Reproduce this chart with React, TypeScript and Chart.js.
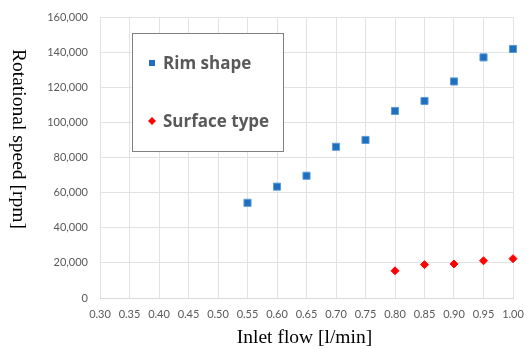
import { useEffect, useRef } from "react";
import { Chart, registerables } from "chart.js";

Chart.register(...registerables);

const rimFlow = [0.55, 0.6, 0.65, 0.7, 0.75, 0.8, 0.85, 0.9, 0.95, 1.0];
const rimSpeed = [54200, 63400, 69600, 86100, 90000, 106500, 112200, 123300, 137000, 141800];
const surfaceFlow = [0.8, 0.85, 0.9, 0.95, 1.0];
const surfaceSpeed = [15500, 19000, 19400, 21200, 22400];
const seriesLabels = ["Rim shape", "Surface type"];
const xMin = 0.3;
const xMax = 1.0;
const xStep = 0.05;
const yMin = 0;
const yMax = 160000;
const yStep = 20000;
const xTitle = "Inlet flow [l/min]";
const yTitle = "Rotational speed [rpm]";

const titlesPlugin = {
  id: "axisTitles",
  afterDraw(chart: any) {
    const ctx = chart.ctx;
    const area = chart.chartArea;
    ctx.save();
    ctx.fillStyle = "#000";
    ctx.font = "19.5px 'Liberation Serif', 'Times New Roman', serif";
    ctx.textAlign = "center";
    ctx.textBaseline = "middle";
    ctx.fillText(xTitle, (area.left + area.right) / 2 - 2, 338);
    ctx.translate(18, 139);
    ctx.rotate(Math.PI / 2);
    ctx.fillText(yTitle, 0, 0);
    ctx.restore();
  },
};

const legendPlugin = {
  id: "boxLegend",
  afterDraw(chart: any) {
    const ctx = chart.ctx;
    const x0 = 132, y0 = 33, w = 151, h = 118;
    ctx.save();
    ctx.fillStyle = "#fff";
    ctx.fillRect(x0, y0, w, h);
    ctx.strokeStyle = "#808080";
    ctx.lineWidth = 1;
    ctx.strokeRect(x0 + 0.5, y0 + 0.5, w, h);
    const rows = [63, 121];
    chart.data.datasets.forEach((ds: any, i: number) => {
      const cy = rows[i];
      const cx = 152;
      ctx.fillStyle = ds.backgroundColor;
      if (ds.pointStyle === "rect") {
        ctx.fillRect(cx - 3, cy - 3, 6, 6);
      } else {
        ctx.beginPath();
        ctx.moveTo(cx, cy - 4);
        ctx.lineTo(cx + 4, cy);
        ctx.lineTo(cx, cy + 4);
        ctx.lineTo(cx - 4, cy);
        ctx.closePath();
        ctx.fill();
      }
      ctx.fillStyle = "#595959";
      ctx.font = "bold 17px 'Open Sans', Lato, sans-serif";
      ctx.textAlign = "left";
      ctx.textBaseline = "middle";
      ctx.fillText(ds.label, 163, cy + 1);
    });
    ctx.restore();
  },
};

export default function App() {
  const ref = useRef<HTMLCanvasElement | null>(null);
  useEffect(() => {
    document.body.style.margin = "0";
    if (!ref.current) return;
    const chart = new Chart(ref.current, {
      type: "scatter",
      data: {
        datasets: [
          {
            label: seriesLabels[0],
            data: rimFlow.map((x, i) => ({ x, y: rimSpeed[i] })),
            backgroundColor: "#1F6FC0",
            borderColor: "#5B9BD5",
            borderWidth: 1,
            pointStyle: "rect",
            pointRadius: 5,
            clip: false,
          },
          {
            label: seriesLabels[1],
            data: surfaceFlow.map((x, i) => ({ x, y: surfaceSpeed[i] })),
            backgroundColor: "#FF0000",
            borderColor: "#FF0000",
            borderWidth: 1,
            pointStyle: "rectRot",
            pointRadius: 4,
            clip: false,
          },
        ],
      },
      options: {
        responsive: false,
        animation: false,
        devicePixelRatio: 1,
        layout: { padding: { left: 0, top: 17, right: 14, bottom: 0 } },
        plugins: { legend: { display: false }, tooltip: { enabled: false } },
        scales: {
          x: {
            type: "linear",
            min: xMin,
            max: xMax,
            ticks: {
              stepSize: xStep,
              padding: 10,
              color: "#595959",
              font: { family: "Lato", size: 11 },
              maxRotation: 0,
              autoSkip: false,
              callback: (v: any) => Number(v).toFixed(2),
            },
            grid: { color: "#e2e2e2", drawTicks: false },
            border: { color: "#d9d9d9" },
            afterFit: (s: any) => {
              s.height = 51;
              s.paddingLeft = 0;
              s.paddingRight = 0;
            },
          },
          y: {
            type: "linear",
            min: yMin,
            max: yMax,
            ticks: {
              stepSize: yStep,
              padding: 12,
              color: "#595959",
              font: { family: "Lato", size: 11 },
              callback: (v: any) => Number(v).toLocaleString("en-US"),
            },
            grid: { color: "#e2e2e2", drawTicks: false },
            border: { display: false },
            afterFit: (s: any) => {
              s.width = 100;
              s.paddingTop = 0;
              s.paddingBottom = 0;
            },
          },
        },
      },
      plugins: [titlesPlugin, legendPlugin],
    } as any);
    return () => chart.destroy();
  }, []);
  return <canvas ref={ref} width={527} height={349} style={{ display: "block" }} />;
}
